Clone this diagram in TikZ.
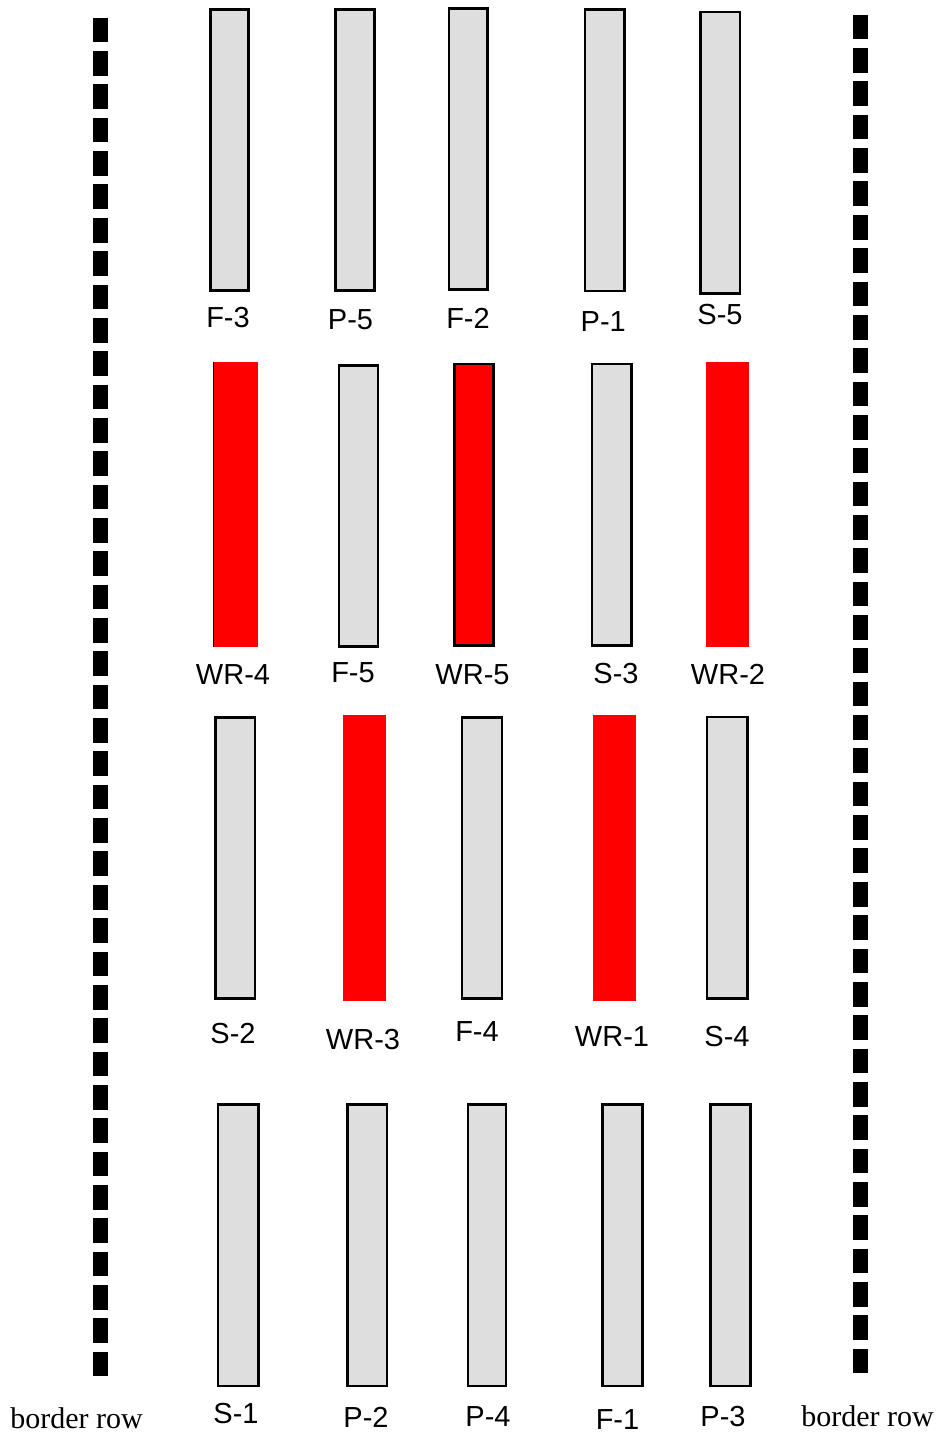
\documentclass[tikz,border=0pt]{standalone}
\usepackage{fontspec}
\setmainfont{Liberation Serif}
\newfontfamily\arialf{Liberation Sans}
\definecolor{slotgray}{HTML}{DEDEDE}
\definecolor{slotred}{HTML}{FF0000}
\tikzset{
  gslot/.style={draw=black, line width=2.6pt, fill=slotgray, inner sep=0pt, outer sep=0pt},
  rslotb/.style={draw=black, line width=2.6pt, fill=slotred, inner sep=0pt, outer sep=0pt},
  rslot/.style={draw=none, fill=slotred, inner sep=0pt, outer sep=0pt},
  lab/.style={inner sep=0pt, font=\arialf\fontsize{29}{31}\selectfont},
  blab/.style={inner sep=0pt, font=\fontsize{30}{32}\selectfont},
  borderline/.style={line width=15pt, dash pattern=on 24.7pt off 8.65pt}
}
\begin{document}
\begin{tikzpicture}[x=1pt,y=-1pt]
\useasboundingbox (0,0) rectangle (937,1434);
% border rows
\coordinate (LT) at (100.8,17.7);
\coordinate (LB) at (100.8,1376);
\coordinate (RT) at (860.3,14.7);
\coordinate (RB) at (860.3,1373.3);
\draw[borderline] (LT) -- (LB);
\draw[borderline] (RT) -- (RB);
% row 1
\node[gslot, minimum width=38.4pt, minimum height=281.4pt] (F3) at (229.5,150) {};
\node[gslot, minimum width=39.4pt, minimum height=281.4pt] (P5) at (355,150) {};
\node[gslot, minimum width=38.7pt, minimum height=281.1pt] (F2) at (468.3,149.2) {};
\node[gslot, minimum width=39.7pt, minimum height=281.7pt] (P1) at (604.9,150.2) {};
\node[gslot, minimum width=39.4pt, minimum height=281.4pt] (S5) at (720.3,152.7) {};
% row 2
\node[rslot, minimum width=44.7pt, minimum height=285pt] (WR4) at (235.7,504.5) {};
\draw[line width=1.4pt] (WR4.north west) -- (WR4.south west);
\node[gslot, minimum width=39pt, minimum height=281.4pt] (F5) at (358.5,506) {};
\node[rslotb, minimum width=39.4pt, minimum height=281.4pt] (WR5) at (474,504.7) {};
\node[gslot, minimum width=39.4pt, minimum height=281.4pt] (S3) at (611.7,504.7) {};
\node[rslot, minimum width=43pt, minimum height=285pt] (WR2) at (727.2,504.5) {};
% row 3
\node[gslot, minimum width=39.4pt, minimum height=281.4pt] (S2) at (235.3,858) {};
\node[rslot, minimum width=43pt, minimum height=286pt] (WR3) at (364.2,857.7) {};
\node[gslot, minimum width=40pt, minimum height=281.4pt] (F4) at (482,858) {};
\node[rslot, minimum width=43.3pt, minimum height=286pt] (WR1) at (614.7,857.7) {};
\node[gslot, minimum width=40.4pt, minimum height=281.7pt] (S4) at (727.2,857.9) {};
% row 4
\node[gslot, minimum width=40.4pt, minimum height=281.4pt] (S1) at (238.2,1245.3) {};
\node[gslot, minimum width=39.7pt, minimum height=281.4pt] (P2) at (367.2,1245.3) {};
\node[gslot, minimum width=38pt, minimum height=281.4pt] (P4) at (487,1245.3) {};
\node[gslot, minimum width=40.4pt, minimum height=281.4pt] (F1) at (622.5,1245.3) {};
\node[gslot, minimum width=40.1pt, minimum height=281.4pt] (P3) at (730.3,1245.3) {};
% labels row 1
\node[lab] (F3l) at (228,318) {F-3};
\node[lab] (P5l) at (350.5,320) {P-5};
\node[lab] (F2l) at (468,318) {F-2};
\node[lab] (P1l) at (603.3,321.5) {P-1};
\node[lab] (S5l) at (720,315) {S-5};
% labels row 2
\node[lab] (WR4l) at (233,675) {WR-4};
\node[lab] (F5l) at (353,672.5) {F-5};
\node[lab] (WR5l) at (472.5,675) {WR-5};
\node[lab] (S3l) at (616,673.5) {S-3};
\node[lab] (WR2l) at (728,674) {WR-2};
% labels row 3
\node[lab] (S2l) at (233,1033.5) {S-2};
\node[lab] (WR3l) at (363,1040) {WR-3};
\node[lab] (F4l) at (477,1031.5) {F-4};
\node[lab] (WR1l) at (612,1037) {WR-1};
\node[lab] (S4l) at (727,1036.5) {S-4};
% labels row 4
\node[lab] (S1l) at (236,1413) {S-1};
\node[lab] (P2l) at (366,1417) {P-2};
\node[lab] (P4l) at (488,1416.5) {P-4};
\node[lab] (F1l) at (617.5,1420) {F-1};
\node[lab] (P3l) at (723,1416.5) {P-3};
% border row labels
\node[blab] (BLl) at (76.5,1418) {border row};
\node[blab] (BRl) at (867.5,1416) {border row};
\end{tikzpicture}
\end{document}
